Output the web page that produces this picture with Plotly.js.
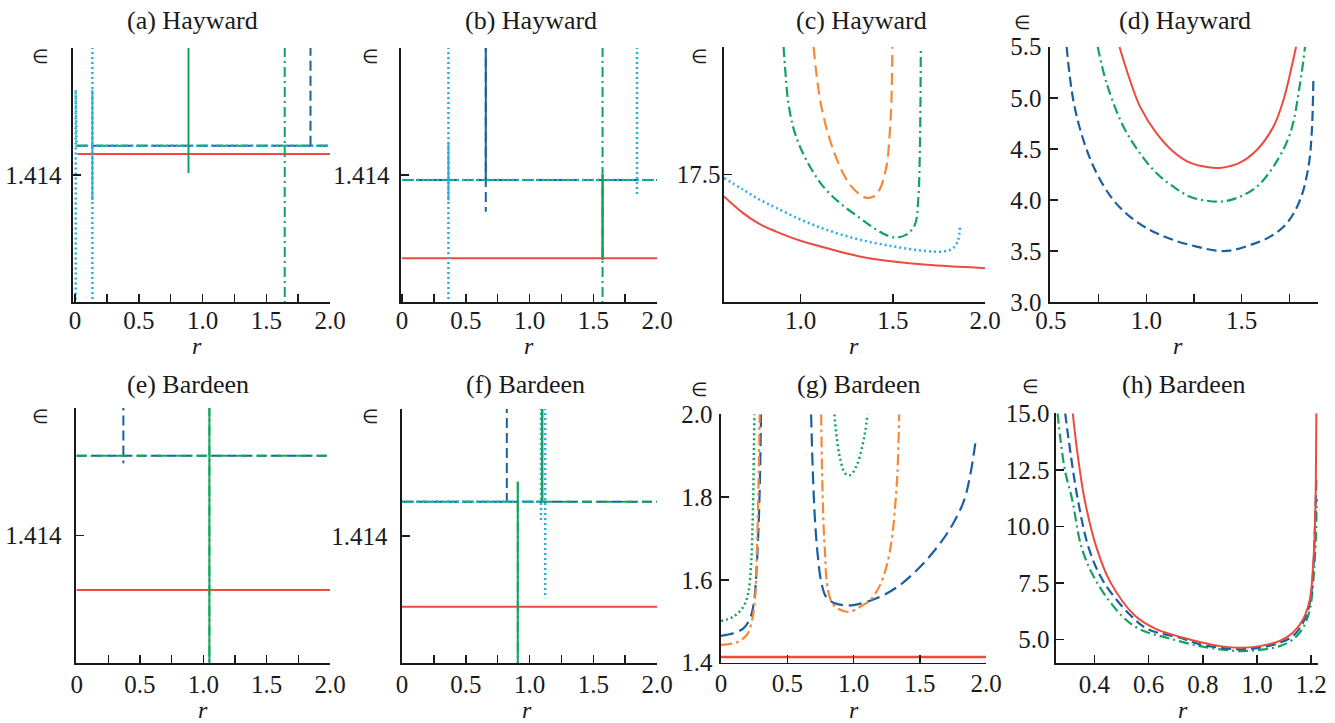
<!DOCTYPE html>
<html><head><meta charset="utf-8">
<script src="https://cdn.plot.ly/plotly-3.0.1.min.js"></script>
<style>html,body{margin:0;padding:0;background:#fff}#chart{width:1335px;height:723px}</style>
</head><body><div id="chart"></div>
<script>
// ---------------- DATA ----------------
// Panel (a) Hayward  (null separates the plateau from the vertical spikes)
const aRedX = [0.018, 2.0];
const aRedY = [1.41466, 1.41466];
const aBlueX = [0.018, 2.0, null, 1.847, 1.847];
const aBlueY = [1.41492, 1.41492, null, 1.41492, 1.43];
const aGreenX = [0.018, 2.0, null, 1.645, 1.645];
const aGreenY = [1.41492, 1.41492, null, 1.43, 1.40];
const aCyanX = [0.005, 0.005, 0.012, 2.0, null, 0.136, 0.136];
const aCyanY = [1.40, 1.41668, 1.41492, 1.41492, null, 1.43, 1.40];
const aGreenSpikeX = [0.890, 0.890];
const aGreenSpikeY = [1.43, 1.41406];
const aCyanSpikeX = [0.136, 0.136];
const aCyanSpikeY = [1.41668, 1.41321];

// Panel (b) Hayward
const bRedX = [0, 2.0];
const bRedY = [1.41138, 1.41138];
const bBlueX = [0, 2.0, null, 0.657, 0.657];
const bBlueY = [1.41384, 1.41384, null, 1.43, 1.41284];
const bGreenX = [0, 2.0, null, 1.573, 1.573];
const bGreenY = [1.41384, 1.41384, null, 1.43, 1.40];
const bCyanX = [0, 2.0, null, 0.364, 0.364, null, 1.843, 1.843];
const bCyanY = [1.41384, 1.41384, null, 1.43, 1.40, null, 1.43, 1.41332];
const bBlueSpikeX = [0.657, 0.657];
const bBlueSpikeY = [1.43, 1.41384];
const bGreenSpikeX = [1.573, 1.573];
const bGreenSpikeY = [1.4140, 1.41132];
const bCyanSpikeX = [0.364, 0.364];
const bCyanSpikeY = [1.41501, 1.4132];

// Panel (c) Hayward
const cRedX = [0.585, 0.687, 0.777, 0.868, 1.0, 1.139, 1.321, 1.502, 1.683, 2.0];
const cRedY = [17.07, 16.748, 16.53, 16.38, 16.2, 16.058, 15.894, 15.795, 15.729, 15.664];
const cCyanX = [0.585, 0.687, 0.777, 0.868, 1.0, 1.139, 1.321, 1.502, 1.647, 1.774, 1.828, 1.855, 1.864];
const cCyanY = [17.43, 17.208, 17.01, 16.846, 16.616, 16.419, 16.222, 16.091, 16.012, 15.992, 16.058, 16.222, 16.485];
const cGreenX = [0.908, 0.918, 0.931, 0.958, 0.995, 1.049, 1.121, 1.212, 1.321, 1.411, 1.502, 1.574, 1.620, 1.638, 1.647, 1.652];
const cGreenY = [20.0, 19.507, 18.981, 18.456, 18.062, 17.667, 17.273, 16.945, 16.649, 16.419, 16.268, 16.321, 16.518, 17.010, 17.996, 20.0];
const cOrangeX = [1.071, 1.085, 1.112, 1.158, 1.212, 1.266, 1.321, 1.357, 1.393, 1.429, 1.466, 1.484, 1.493, 1.498];
const cOrangeY = [20.0, 19.507, 18.85, 18.193, 17.667, 17.306, 17.109, 17.043, 17.063, 17.208, 17.667, 18.325, 18.981, 20.0];

// Panel (d) Hayward
const dRedX = [0.859, 0.914, 0.967, 1.054, 1.142, 1.229, 1.316, 1.395, 1.491, 1.579, 1.666, 1.719, 1.762, 1.785];
const dRedY = [5.5, 5.174, 4.913, 4.651, 4.472, 4.364, 4.322, 4.315, 4.364, 4.488, 4.717, 4.978, 5.304, 5.5];
const dGreenX = [0.745, 0.792, 0.880, 0.967, 1.054, 1.142, 1.229, 1.316, 1.404, 1.491, 1.579, 1.666, 1.754, 1.806, 1.832];
const dGreenY = [5.5, 5.141, 4.717, 4.456, 4.260, 4.129, 4.031, 3.992, 3.985, 4.031, 4.129, 4.325, 4.651, 5.141, 5.5];
const dBlueX = [0.582, 0.617, 0.670, 0.740, 0.827, 0.914, 1.019, 1.142, 1.264, 1.369, 1.439, 1.544, 1.649, 1.736, 1.806, 1.850, 1.867, 1.876];
const dBlueY = [5.5, 4.978, 4.586, 4.260, 3.999, 3.836, 3.705, 3.607, 3.542, 3.503, 3.503, 3.558, 3.640, 3.770, 3.999, 4.325, 4.651, 5.206];

// Panel (e) Bardeen
const eRedX = [0, 2.0];
const eRedY = [1.41229, 1.41229];
const eBlueX = [0, 2.0, null, 0.369, 0.369];
const eBlueY = [1.4165, 1.4165, null, 1.43, 1.41627];
const eGreenX = [0, 2.0, null, 1.048, 1.048];
const eGreenY = [1.4165, 1.4165, null, 1.43, 1.40];
const eGreenSpikeX = [1.048, 1.048];
const eGreenSpikeY = [1.43, 1.40];

// Panel (f) Bardeen
const fRedX = [0, 2.0];
const fRedY = [1.41177, 1.41177];
const fBlueX = [0, 2.0, null, 0.822, 0.822];
const fBlueY = [1.41508, 1.41508, null, 1.43, 1.41508];
const fGreenX = [0, 2.0, null, 0.908, 0.908, null, 1.099, 1.099];
const fGreenY = [1.41508, 1.41508, null, 1.41571, 1.40, null, 1.43, 1.41508];
const fCyanX = [0, 1.13, null, 1.090, 1.090, null, 1.123, 1.123];
const fCyanY = [1.41508, 1.41508, null, 1.43, 1.4144, null, 1.43, 1.41204];
const fGreenSpike1X = [0.908, 0.908];
const fGreenSpike1Y = [1.41571, 1.40];
const fGreenSpike2X = [1.099, 1.099];
const fGreenSpike2Y = [1.43, 1.41508];

// Panel (g) Bardeen
const gRedX = [0, 2.0];
const gRedY = [1.414, 1.414];
const gGreenLX = [0, 0.093, 0.169, 0.207, 0.227, 0.237, 0.244, 0.249, 0.252];
const gGreenLY = [1.5006, 1.511, 1.535, 1.571, 1.636, 1.716, 1.821, 1.926, 2.0];
const gGreenRX = [0.856, 0.874, 0.899, 0.937, 0.975, 1.025, 1.063, 1.088, 1.106];
const gGreenRY = [2.0, 1.942, 1.893, 1.857, 1.853, 1.877, 1.918, 1.958, 2.0];
const gBlueLX = [0, 0.093, 0.169, 0.219, 0.249, 0.270, 0.285, 0.295, 0.302];
const gBlueLY = [1.465, 1.471, 1.483, 1.507, 1.547, 1.636, 1.741, 1.861, 2.0];
const gBlueRX = [0.680, 0.693, 0.710, 0.730, 0.756, 0.793, 0.849, 0.924, 1.0, 1.101, 1.226, 1.352, 1.479, 1.604, 1.730, 1.831, 1.881, 1.919];
const gBlueRY = [2.0, 1.861, 1.741, 1.660, 1.596, 1.559, 1.545, 1.539, 1.539, 1.547, 1.563, 1.588, 1.624, 1.668, 1.724, 1.789, 1.853, 1.930];
const gOrangeLX = [0, 0.118, 0.194, 0.232, 0.257, 0.270, 0.280, 0.287, 0.292];
const gOrangeLY = [1.443, 1.449, 1.467, 1.499, 1.555, 1.660, 1.781, 1.902, 2.0];
const gOrangeRX = [0.756, 0.763, 0.773, 0.786, 0.798, 0.824, 0.861, 0.924, 0.975, 1.050, 1.126, 1.201, 1.252, 1.290, 1.315, 1.332, 1.345];
const gOrangeRY = [2.0, 1.861, 1.741, 1.660, 1.596, 1.555, 1.535, 1.525, 1.523, 1.535, 1.551, 1.588, 1.636, 1.700, 1.781, 1.861, 2.0];

// Panel (h) Bardeen
const hRedX = [0.320, 0.335, 0.363, 0.409, 0.459, 0.550, 0.630, 0.728, 0.789, 0.863, 0.937, 1.010, 1.084, 1.133, 1.170, 1.195, 1.207, 1.213, 1.217, 1.219];
const hRedY = [15.0, 13.44, 11.22, 9.0, 7.52, 6.04, 5.44, 5.07, 4.88, 4.70, 4.63, 4.70, 4.93, 5.30, 5.89, 6.78, 8.26, 9.74, 11.96, 15.0];
const hBlueX = [0.292, 0.304, 0.338, 0.380, 0.435, 0.535, 0.599, 0.716, 0.789, 0.863, 0.937, 1.010, 1.084, 1.133, 1.170, 1.195, 1.207, 1.213, 1.219];
const hBlueY = [15.0, 13.89, 11.22, 9.0, 7.52, 6.04, 5.44, 5.07, 4.78, 4.63, 4.56, 4.63, 4.85, 5.15, 5.74, 6.63, 7.96, 9.74, 12.04];
const hGreenX = [0.264, 0.274, 0.292, 0.317, 0.354, 0.409, 0.501, 0.568, 0.667, 0.789, 0.863, 0.937, 1.010, 1.084, 1.133, 1.170, 1.195, 1.207, 1.217, 1.220];
const hGreenY = [15.0, 13.89, 12.41, 11.22, 9.0, 7.52, 6.04, 5.44, 5.07, 4.70, 4.56, 4.48, 4.53, 4.70, 5.0, 5.52, 6.33, 7.52, 9.44, 11.22];

// Tick labels
const tickFullV = [0, 0.25, 0.5, 0.75, 1.0, 1.25, 1.5, 1.75, 2.0];
const tickFullT = ['0', '', '0.5', '', '1.0', '', '1.5', '', '2.0'];
const tickCV = [1.0, 1.5, 2.0];
const tickCT = ['1.0', '1.5', '2.0'];
const tickDV = [0.5, 0.75, 1.0, 1.25, 1.5, 1.75];
const tickDT = ['0.5', '', '1.0', '', '1.5', ''];
const tickGV = [0, 0.5, 1.0, 1.5, 2.0];
const tickGT = ['0', '0.5', '1.0', '1.5', '2.0'];
const tickHV = [0.4, 0.6, 0.8, 1.0, 1.2];
const tickHT = ['0.4', '0.6', '0.8', '1.0', '1.2'];
const yTickSpikeV = [1.414];
const yTickSpikeT = ['1.414'];
const yTickCV = [17.5];
const yTickCT = ['17.5'];
const yTickDV = [3.0, 3.5, 4.0, 4.5, 5.0, 5.5];
const yTickDT = ['3.0', '3.5', '4.0', '4.5', '5.0', '5.5'];
const yTickGV = [1.4, 1.6, 1.8, 2.0];
const yTickGT = ['1.4', '1.6', '1.8', '2.0'];
const yTickHV = [5.0, 7.5, 10.0, 12.5, 15.0];
const yTickHT = ['5.0', '7.5', '10.0', '12.5', '15.0'];

const titles = ['(a) Hayward', '(b) Hayward', '(c) Hayward', '(d) Hayward', '(e) Bardeen', '(f) Bardeen', '(g) Bardeen', '(h) Bardeen'];

// ---------------- STYLE ----------------
const RED = '#ee4a3d', BLUE = '#1b5f9f', GREEN = '#14a35d', CYAN = '#29aee0', ORANGE = '#f5893a';
const DASH = '10px,5px', DASHDOT = '10px,4px,2px,4px', DOT = '2px,3px';
const W = 1335, H = 723;
const SERIF = 'Liberation Serif, Times New Roman, serif';

function ref(n) { return n === 1 ? '' : String(n); }
function L(x, y, color, dash, n, width, shape) {
  return {type: 'scatter', mode: 'lines', x: x, y: y, xaxis: 'x' + ref(n), yaxis: 'y' + ref(n),
    line: {color: color, dash: dash, width: width || 2, shape: shape || 'linear', smoothing: 1.0},
    hoverinfo: 'skip', showlegend: false, connectgaps: false};
}
function join(a, b) { return a.concat([null], b); }

const traces = [
  // (a)
  L(aRedX, aRedY, RED, 'solid', 1, 2),
  L(aBlueX, aBlueY, BLUE, DASH, 1, 2),
  L(aGreenX, aGreenY, GREEN, DASHDOT, 1, 2),
  L(aCyanX, aCyanY, CYAN, DOT, 1, 2.5),
  L(aGreenSpikeX, aGreenSpikeY, GREEN, 'solid', 1, 2),
  L(aCyanSpikeX, aCyanSpikeY, CYAN, 'solid', 1, 2),
  // (b)
  L(bRedX, bRedY, RED, 'solid', 2, 2),
  L(bBlueX, bBlueY, BLUE, DASH, 2, 2),
  L(bGreenX, bGreenY, GREEN, DASHDOT, 2, 2),
  L(bCyanX, bCyanY, CYAN, DOT, 2, 2.5),
  L(bBlueSpikeX, bBlueSpikeY, BLUE, 'solid', 2, 2),
  L(bGreenSpikeX, bGreenSpikeY, GREEN, 'solid', 2, 2.5),
  L(bCyanSpikeX, bCyanSpikeY, CYAN, 'solid', 2, 2),
  // (c)
  L(cRedX, cRedY, RED, 'solid', 3, 2, 'spline'),
  L(cCyanX, cCyanY, CYAN, DOT, 3, 2.5, 'spline'),
  L(cGreenX, cGreenY, GREEN, DASHDOT, 3, 2.2, 'spline'),
  L(cOrangeX, cOrangeY, ORANGE, '12px,6px', 3, 2.2, 'spline'),
  // (d)
  L(dRedX, dRedY, RED, 'solid', 4, 2, 'spline'),
  L(dGreenX, dGreenY, GREEN, DASHDOT, 4, 2.2, 'spline'),
  L(dBlueX, dBlueY, BLUE, DASH, 4, 2.2, 'spline'),
  // (e)
  L(eRedX, eRedY, RED, 'solid', 5, 2),
  L(eBlueX, eBlueY, BLUE, DASH, 5, 2),
  L(eGreenX, eGreenY, GREEN, DASHDOT, 5, 2),
  L(eGreenSpikeX, eGreenSpikeY, GREEN, 'solid', 5, 2),
  // (f)
  L(fRedX, fRedY, RED, 'solid', 6, 2),
  L(fBlueX, fBlueY, BLUE, DASH, 6, 2),
  L(fGreenX, fGreenY, GREEN, DASHDOT, 6, 2),
  L(fCyanX, fCyanY, CYAN, DOT, 6, 2.5),
  L(fGreenSpike1X, fGreenSpike1Y, GREEN, 'solid', 6, 2),
  L(fGreenSpike2X, fGreenSpike2Y, GREEN, 'solid', 6, 2.5),
  // (g)
  L(gRedX, gRedY, RED, 'solid', 7, 2.5),
  L(join(gGreenLX, gGreenRX), join(gGreenLY, gGreenRY), GREEN, DOT, 7, 2.5, 'spline'),
  L(join(gBlueLX, gBlueRX), join(gBlueLY, gBlueRY), BLUE, '13px,6px', 7, 2.2, 'spline'),
  L(join(gOrangeLX, gOrangeRX), join(gOrangeLY, gOrangeRY), ORANGE, '11px,4px,3px,4px', 7, 2.2, 'spline'),
  // (h)
  L(hGreenX, hGreenY, GREEN, DASHDOT, 8, 2.2, 'spline'),
  L(hBlueX, hBlueY, BLUE, DASH, 8, 2.2, 'spline'),
  L(hRedX, hRedY, RED, 'solid', 8, 2, 'spline')
];

// ---------------- LAYOUT ----------------
const AX = '#1a1a1a';
const tickFont = {family: SERIF, size: 25, color: '#1a1a1a'};
function xa(l, r, range, tv, tt, so) {
  return {domain: [l / W, r / W], range: range, autorange: false, tickvals: tv, ticktext: tt,
    showline: true, linecolor: AX, linewidth: 1.6, ticks: 'inside', ticklen: 8, tickwidth: 1.5, tickcolor: AX,
    showgrid: false, zeroline: false, tickfont: tickFont, ticklabelstandoff: so, fixedrange: true};
}
function ya(t, b, range, tv, tt, so) {
  return {domain: [1 - b / H, 1 - t / H], range: range, autorange: false, tickvals: tv, ticktext: tt,
    showline: true, linecolor: AX, linewidth: 1.6, ticks: 'inside', ticklen: 8, tickwidth: 1.5, tickcolor: AX,
    showgrid: false, zeroline: false, tickfont: tickFont, ticklabelstandoff: so, fixedrange: true};
}
const layout = {
  width: W, height: H, margin: {l: 0, r: 0, t: 0, b: 0},
  paper_bgcolor: '#fff', plot_bgcolor: 'rgba(0,0,0,0)', showlegend: false,
  xaxis:  xa(73, 330, [-0.016, 2.0], tickFullV, tickFullT, -5),
  yaxis:  ya(48, 302, [1.41, 1.418], yTickSpikeV, yTickSpikeT, 5),
  xaxis2: xa(401, 657, [-0.008, 2.0], tickFullV, tickFullT, -5),
  yaxis2: ya(48, 302, [1.41, 1.418], yTickSpikeV, yTickSpikeT, 5),
  xaxis3: xa(724, 985, [0.585, 2.0], tickCV, tickCT, -5),
  yaxis3: ya(47, 302, [15, 20], yTickCV, yTickCT, -3),
  xaxis4: xa(1050, 1318, [0.495, 1.90], tickDV, tickDT, -5),
  yaxis4: ya(46.7, 302, [3.0, 5.5], yTickDV, yTickDT, 2),
  xaxis5: xa(76, 330, [-0.005, 2.0], tickFullV, tickFullT, -2),
  yaxis5: ya(408, 663, [1.41, 1.418], yTickSpikeV, yTickSpikeT, 8),
  xaxis6: xa(402, 657, [0, 2.0], tickFullV, tickFullT, -2),
  yaxis6: ya(409, 663, [1.41, 1.418], yTickSpikeV, yTickSpikeT, 8),
  xaxis7: xa(721, 986, [0, 2.0], tickGV, tickGT, -2),
  yaxis7: ya(414.3, 662.7, [1.4, 2.0], yTickGV, yTickGT, 2),
  xaxis8: xa(1056, 1318, [0.258, 1.225], tickHV, tickHT, -2),
  yaxis8: ya(413.3, 663.3, [3.94, 15.0], yTickHV, yTickHT, 0),
  annotations: []
};
for (let i = 1; i <= 8; i++) {
  layout['xaxis' + ref(i)].anchor = 'y' + ref(i);
  layout['yaxis' + ref(i)].anchor = 'x' + ref(i);
}
const titlePos = [[192, 20], [531, 20], [861, 20], [1185, 20], [188, 384], [525, 384], [858, 384], [1183, 384]];
const epsPos = [[40, 57], [370, 57], [700, 57], [1022, 22], [40, 417], [370, 417], [700, 389], [1030, 386]];
const rPos = [[197, 346], [529, 346], [854, 346], [1178, 346], [203, 710], [527, 710], [854, 710], [1183, 710]];
function ann(text, p, size) {
  return {text: text, x: p[0] / W, y: 1 - p[1] / H, xref: 'paper', yref: 'paper', xanchor: 'center', yanchor: 'middle',
    showarrow: false, font: {family: SERIF, size: size, color: '#1a1a1a'}};
}
for (let i = 0; i < 8; i++) {
  layout.annotations.push(ann(titles[i], titlePos[i], 26));
  layout.annotations.push(ann('∈', epsPos[i], 19));
  layout.annotations.push(ann('<i>r</i>', rPos[i], 24));
}
Plotly.newPlot('chart', traces, layout, {staticPlot: true, displayModeBar: false});
</script></body></html>
